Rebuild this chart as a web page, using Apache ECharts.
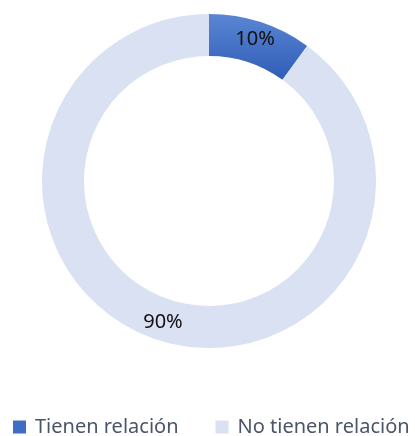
<!DOCTYPE html>
<html>
<head>
<meta charset="utf-8">
<script src="https://cdn.jsdelivr.net/npm/echarts@6/dist/echarts.min.js"></script>
<style>
  html, body { margin: 0; padding: 0; background: #fff; }
  #chart { width: 415px; height: 436px; }
</style>
</head>
<body>
<div id="chart"></div>
<script>
// Share of respondents by relation
const categories = ['Tienen relación', 'No tienen relación'];
const values = [10, 90];
const labels = ['10%', '90%'];

const blueFill = new echarts.graphic.LinearGradient(0, 0, 0, 1, [
  { offset: 0, color: '#5a86d3' },
  { offset: 1, color: '#2f5db6' }
]);
const sliceColors = [blueFill, '#d9e1f2'];
const legendColors = ['#3f6cc4', '#d9e1f2'];

const chart = echarts.init(document.getElementById('chart'), null, { renderer: 'canvas' });

chart.setOption({
  animation: false,
  legend: {
    top: 417,
    left: 13,
    padding: 0,
    itemWidth: 13,
    itemHeight: 13,
    itemGap: 37,
    icon: 'rect',
    textStyle: {
      fontFamily: 'Noto Sans',
      fontSize: 20,
      lineHeight: 20,
      color: '#4a5568',
      padding: [0, 0, 0, 4]
    },
    data: categories.map((name, i) => ({ name, itemStyle: { color: legendColors[i] } }))
  },
  series: [{
    type: 'pie',
    center: [209, 181],
    radius: [125, 167],
    startAngle: 90,
    clockwise: true,
    silent: true,
    label: {
      show: true,
      position: 'inside',
      fontFamily: 'Noto Sans',
      fontSize: 20,
      color: '#111',
      formatter: p => labels[p.dataIndex]
    },
    labelLine: { show: false },
    data: categories.map((name, i) => ({
      name,
      value: values[i],
      itemStyle: { color: sliceColors[i] }
    }))
  }]
});
</script>
</body>
</html>
